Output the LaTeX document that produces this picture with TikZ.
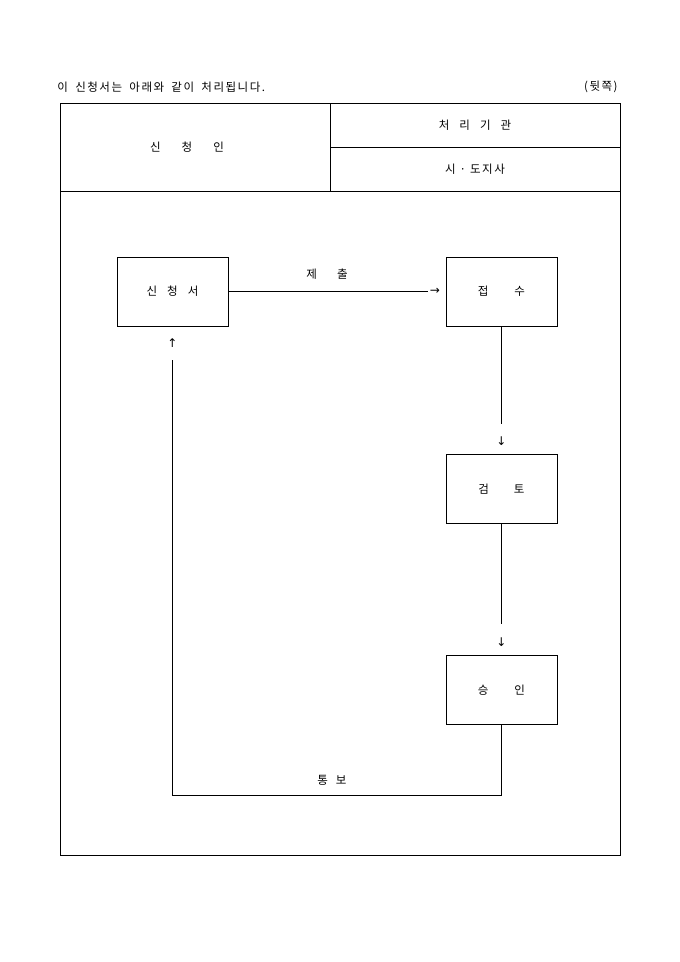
\documentclass[tikz,border=0pt]{standalone}
\usepackage{fontspec}
\setmainfont[LetterSpace=13,WordSpace=1.8]{Noto Sans CJK KR}
\newfontfamily\arrowfont{DejaVu Sans}
\begin{document}
\begin{tikzpicture}[x=1pt,y=-1pt,line width=0.8pt,
  every node/.style={inner sep=0pt,font=\fontsize{11.5}{13}\selectfont},
  flowbox/.style={draw,minimum width=111pt,minimum height=69pt},
  glyph/.style={inner sep=0pt,font=\arrowfont\fontsize{12}{14}\selectfont}]
\useasboundingbox (0,0) rectangle (680,962);
% heading
\node[anchor=west] (title) at (57,87) {이 신청서는 아래와 같이 처리됩니다.};
\node[anchor=east] (back) at (618,87) {(뒷쪽)};
% table
\draw (60,103) rectangle (620,855);
\draw (60,191) -- (620,191);
\draw (330,103) -- (330,191);
\draw (330,147) -- (620,147);
\node (applicant) at (187,147) {신\hspace{21pt}청\hspace{21pt}인};
\node (agency) at (475,125) {처\hspace{10pt}리\hspace{10pt}기\hspace{10pt}관};
\node (governor) at (475,169) {시\hspace{4pt}·\hspace{4pt}도지사};
% boxes
\node[flowbox] (req) at (172.5,291.5) {신\hspace{10pt}청\hspace{10pt}서};
\node[flowbox] (recv) at (501.5,291.5) {접\hspace{26pt}수};
\node[flowbox] (rev) at (501.5,489) {검\hspace{25pt}토};
\node[flowbox] (appr) at (501.5,690) {승\hspace{26pt}인};
% arrow glyphs
\node[glyph] (a1) at (435,291.5) {→};
\node[glyph] (a2) at (501.5,441) {↓};
\node[glyph] (a3) at (501.5,642) {↓};
\node[glyph] (a4) at (172.5,343) {↑};
\coordinate (c1) at (501.5,795);
\coordinate (c2) at (172.5,795);
\coordinate (e2) at (501.5,424);
\coordinate (e3) at (501.5,624);
\coordinate (e4) at (172.5,360);
% connectors
\draw (req.east) -- ([xshift=-2pt]a1.west);
\node (submit) at (327,274) {제\hspace{20pt}출};
\draw (recv.south) -- (e2);
\draw (rev.south) -- (e3);
\draw (appr.south) -- (c1) -- (c2) -- (e4);
\node (notify) at (332,780) {통\hspace{8pt}보};
\end{tikzpicture}
\end{document}
